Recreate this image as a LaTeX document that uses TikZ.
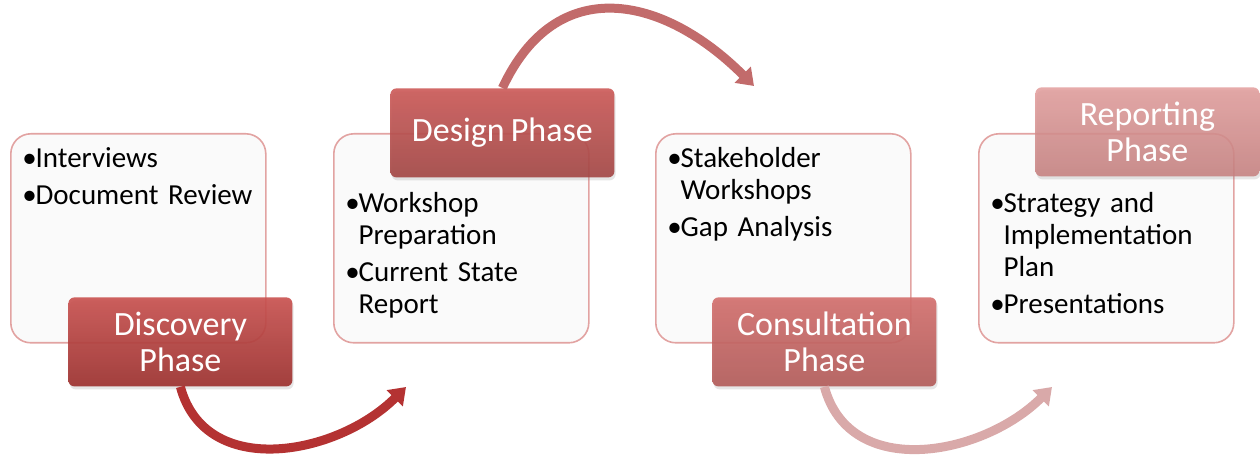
\documentclass[tikz,border=0pt]{standalone}
\usepackage{fontspec}
\setmainfont{Carlito}[WordSpace=0.8]
\usetikzlibrary{arrows.meta, shadows, positioning}

\definecolor{boxline}{HTML}{E2A3A2}
\definecolor{boxfill}{HTML}{FAFAFA}
\definecolor{discTop}{HTML}{C9504E}
\definecolor{discBot}{HTML}{9B2E2C}
\definecolor{desTop}{HTML}{CC5957}
\definecolor{desBot}{HTML}{A24543}
\definecolor{conTop}{HTML}{D36E6C}
\definecolor{conBot}{HTML}{B25A58}
\definecolor{repTop}{HTML}{E29C9B}
\definecolor{repBot}{HTML}{C57E7D}
\definecolor{arrOne}{HTML}{B43232}
\definecolor{arrTwo}{HTML}{C26B6B}
\definecolor{arrThree}{HTML}{D9A9A9}

% bullet, and the indent of a wrapped line
\newcommand{\bul}{\makebox[6.6pt][l]{•}}
\newcommand{\ind}{\hspace*{6.6pt}}

\tikzset{
    itembox/.style={draw=boxline, line width=0.8pt, fill=boxfill, rounded corners=10pt,
        minimum width=127.5pt, minimum height=104.5pt, anchor=north west},
    itemtext/.style={anchor=north west, text width=120pt, align=left, inner sep=0pt,
        font=\fontsize{14.5}{16}\selectfont},
    phase/.style={rounded corners=3pt, minimum width=112pt, minimum height=44.5pt,
        text=white, align=center, anchor=north west, fill opacity=0.9, text opacity=1,
        font=\fontsize{17}{18}\selectfont,
        drop shadow={shadow xshift=0.6pt, shadow yshift=-1.5pt, opacity=0.2}},
    flow/.style={line width=4.5pt, -{Triangle[length=8pt, width=11pt]}}
}

\begin{document}
\begin{tikzpicture}[x=0.5pt, y=0.5pt]
    \useasboundingbox (0,0) rectangle (1260,-459);

    % content boxes
    \node[itembox] (discbox) at (10,-133) {};
    \node[itembox] (desbox) at (333,-133) {};
    \node[itembox] (conbox) at (655,-133) {};
    \node[itembox] (repbox) at (978,-133) {};

    \node[itemtext] (disctext) at (22,-147)
        {\bul Interviews\\[2.5pt]\bul Document Review};
    \node[itemtext] (destext) at (345,-192)
        {\bul Workshop\\\ind Preparation\\[2.5pt]\bul Current State\\\ind Report};
    \node[itemtext] (context) at (667,-147)
        {\bul Stakeholder\\\ind Workshops\\[2.5pt]\bul Gap Analysis};
    \node[itemtext] (reptext) at (990,-192)
        {\bul Strategy and\\\ind Implementation\\\ind Plan\\[2.5pt]\bul Presentations};

    % phase labels
    \node[phase, top color=discTop, bottom color=discBot] (disc) at (68,-297) {Discovery\\Phase};
    \node[phase, top color=desTop, bottom color=desBot] (des) at (390,-88) {Design Phase};
    \node[phase, top color=conTop, bottom color=conBot] (con) at (712,-297) {Consultation\\Phase};
    \node[phase, top color=repTop, bottom color=repBot, fill opacity=0.85] (rep) at (1035,-87) {Reporting\\Phase};

    % arrows between phases
    \coordinate (toDesign) at (406,-387);
    \coordinate (toConsult) at (754,-86);
    \coordinate (toReport) at (1052,-387);

    \draw[flow, arrOne] (disc.south) to[out=-75, in=-135, looseness=1.1] (toDesign);
    \draw[flow, arrTwo] (des.north) to[out=65, in=135, looseness=1.3] (toConsult);
    \draw[flow, arrThree] (con.south) to[out=-75, in=-135, looseness=1.1] (toReport);
\end{tikzpicture}
\end{document}
